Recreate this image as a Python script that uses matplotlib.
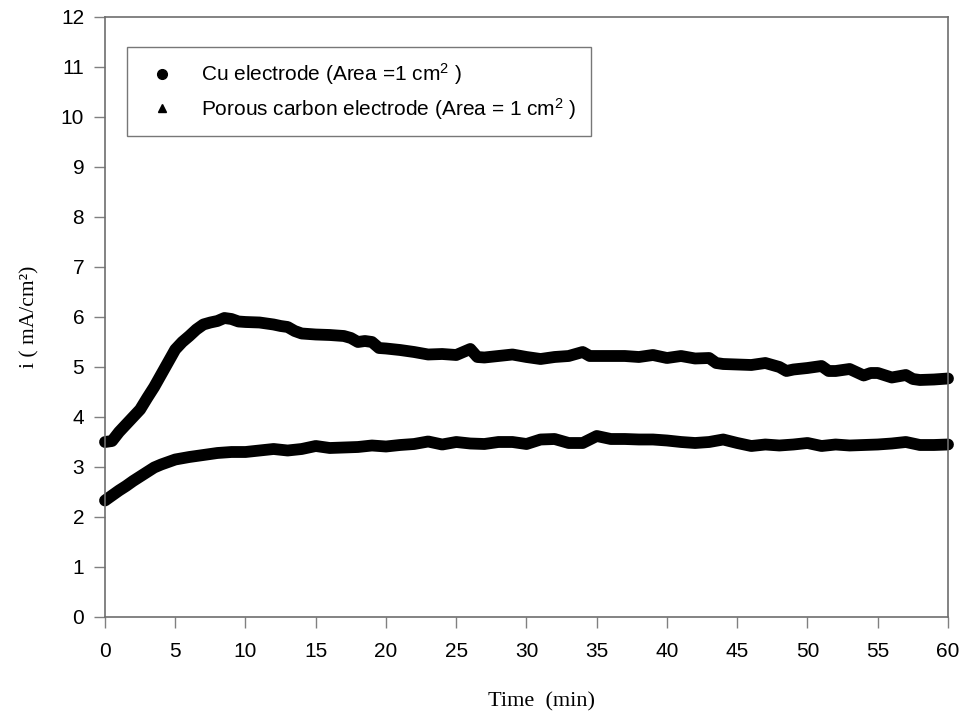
import matplotlib
matplotlib.use("Agg")
import matplotlib.pyplot as plt
from matplotlib.lines import Line2D

# Porous carbon electrode (triangles)
t_carbon = [0, 0.5, 1.0, 1.5, 2.0, 2.5, 3.0, 3.5, 4.0, 4.5, 5.0, 5.5, 6.0, 6.5, 7.0, 7.5,
            8.0, 8.5, 9.0, 9.5, 10, 11, 12, 12.5, 13, 13.5, 14, 15, 16, 17, 17.5, 18,
            18.5, 19, 19.5, 20, 21, 22, 23, 24, 25, 25.5, 26, 26.5, 27, 28, 29, 30, 31,
            32, 33, 34, 34.5, 35, 36, 37, 38, 39, 40, 41, 42, 43, 43.5, 44, 45, 46, 47,
            48, 48.5, 49, 50, 51, 51.5, 52, 53, 54, 54.5, 55, 56, 57, 57.5, 58, 59, 60]
i_carbon = [3.50, 3.52, 3.70, 3.85, 4.00, 4.15, 4.38, 4.60, 4.85, 5.10, 5.35, 5.50, 5.62,
            5.75, 5.85, 5.89, 5.92, 5.98, 5.96, 5.91, 5.90, 5.89, 5.85, 5.82, 5.80, 5.72,
            5.67, 5.65, 5.64, 5.62, 5.58, 5.50, 5.52, 5.50, 5.38, 5.37, 5.34, 5.30, 5.25,
            5.26, 5.24, 5.30, 5.36, 5.20, 5.19, 5.22, 5.25, 5.20, 5.16, 5.20, 5.22, 5.30,
            5.22, 5.22, 5.22, 5.22, 5.20, 5.24, 5.18, 5.22, 5.17, 5.18, 5.08, 5.06, 5.05,
            5.04, 5.08, 5.00, 4.92, 4.95, 4.98, 5.02, 4.92, 4.92, 4.96, 4.83, 4.88, 4.88,
            4.79, 4.84, 4.76, 4.74, 4.75, 4.77]

# Cu electrode (circles)
t_cu = [0, 0.5, 1, 1.5, 2, 2.5, 3, 3.5, 4, 4.5, 5, 6, 7, 8, 9, 10, 11, 12, 13, 14, 15, 16,
        17, 18, 19, 20, 21, 22, 23, 24, 25, 26, 27, 28, 29, 30, 31, 32, 33, 34, 35, 36, 37,
        38, 39, 40, 41, 42, 43, 44, 45, 46, 47, 48, 49, 50, 51, 52, 53, 54, 55, 56, 57, 58,
        59, 60]
i_cu = [2.33, 2.43, 2.53, 2.62, 2.72, 2.81, 2.90, 2.99, 3.05, 3.10, 3.15, 3.20, 3.24, 3.28,
        3.30, 3.30, 3.33, 3.36, 3.33, 3.36, 3.42, 3.38, 3.39, 3.40, 3.43, 3.41, 3.44, 3.46,
        3.51, 3.45, 3.50, 3.47, 3.46, 3.50, 3.50, 3.46, 3.55, 3.56, 3.48, 3.48, 3.62, 3.56,
        3.56, 3.55, 3.55, 3.53, 3.50, 3.48, 3.50, 3.55, 3.48, 3.42, 3.45, 3.43, 3.45, 3.48,
        3.42, 3.45, 3.43, 3.44, 3.45, 3.47, 3.50, 3.44, 3.44, 3.45]

x_ticks = list(range(0, 61, 5))
y_ticks = list(range(0, 13))
labels = ["Cu electrode (Area =1 cm$^{2}$ )", "Porous carbon electrode (Area = 1 cm$^{2}$ )"]

plt.rcParams["mathtext.fontset"] = "custom"
plt.rcParams["mathtext.rm"] = "Liberation Sans"
plt.rcParams["mathtext.it"] = "Liberation Sans"
plt.rcParams["mathtext.default"] = "regular"

sans = ["Liberation Sans", "DejaVu Sans"]
serif = ["Liberation Serif", "DejaVu Serif"]

fig = plt.figure(figsize=(9.62, 7.15), dpi=100)
ax = fig.add_axes([105 / 962, 1 - 617 / 715, (948 - 105) / 962, (617 - 17) / 715])

ax.plot(t_carbon, i_carbon, color="black", lw=8.5,
        solid_joinstyle="round", solid_capstyle="round", clip_on=False)
ax.plot(t_cu, i_cu, color="black", lw=8.5,
        solid_joinstyle="round", solid_capstyle="round", clip_on=False)

ax.set_xlim(0, 60)
ax.set_ylim(0, 12)
ax.set_xticks(x_ticks)
ax.set_yticks(y_ticks)
ax.tick_params(axis="both", direction="out", length=8, width=1, color="#808080",
               labelsize=15)
ax.tick_params(axis="x", pad=10)
ax.tick_params(axis="y", pad=7)
for lab in ax.get_xticklabels() + ax.get_yticklabels():
    lab.set_family(sans)

for sp in ax.spines.values():
    sp.set_color("#6e6e6e")
    sp.set_linewidth(1.2)

ax.set_xlabel("Time  (min)", family=serif, fontsize=16)
ax.xaxis.set_label_coords((542 - 105) / 843, -(702 - 617) / 600)
ax.xaxis.label.set_va("center")
ax.set_ylabel("i ( mA/cm\u00b2)", family=serif, fontsize=15.5)
ax.yaxis.set_label_coords(-(105 - 30) / 843, 0.5)
ax.yaxis.label.set_va("center")

handles = [Line2D([], [], color="black", marker="o", ls="none", ms=7),
           Line2D([], [], color="black", marker="^", ls="none", ms=6)]
leg = ax.legend(handles, labels, loc="upper left",
                bbox_to_anchor=((127 - 105) / 843, (617 - 47) / 600),
                prop={"family": sans, "size": 15}, frameon=True, fancybox=False,
                edgecolor="#555555", borderpad=0.7, handletextpad=0.85,
                labelspacing=0.4, borderaxespad=0, handlelength=2.0)
leg.get_frame().set_linewidth(1.0)

fig.savefig("out.png", dpi=100)
